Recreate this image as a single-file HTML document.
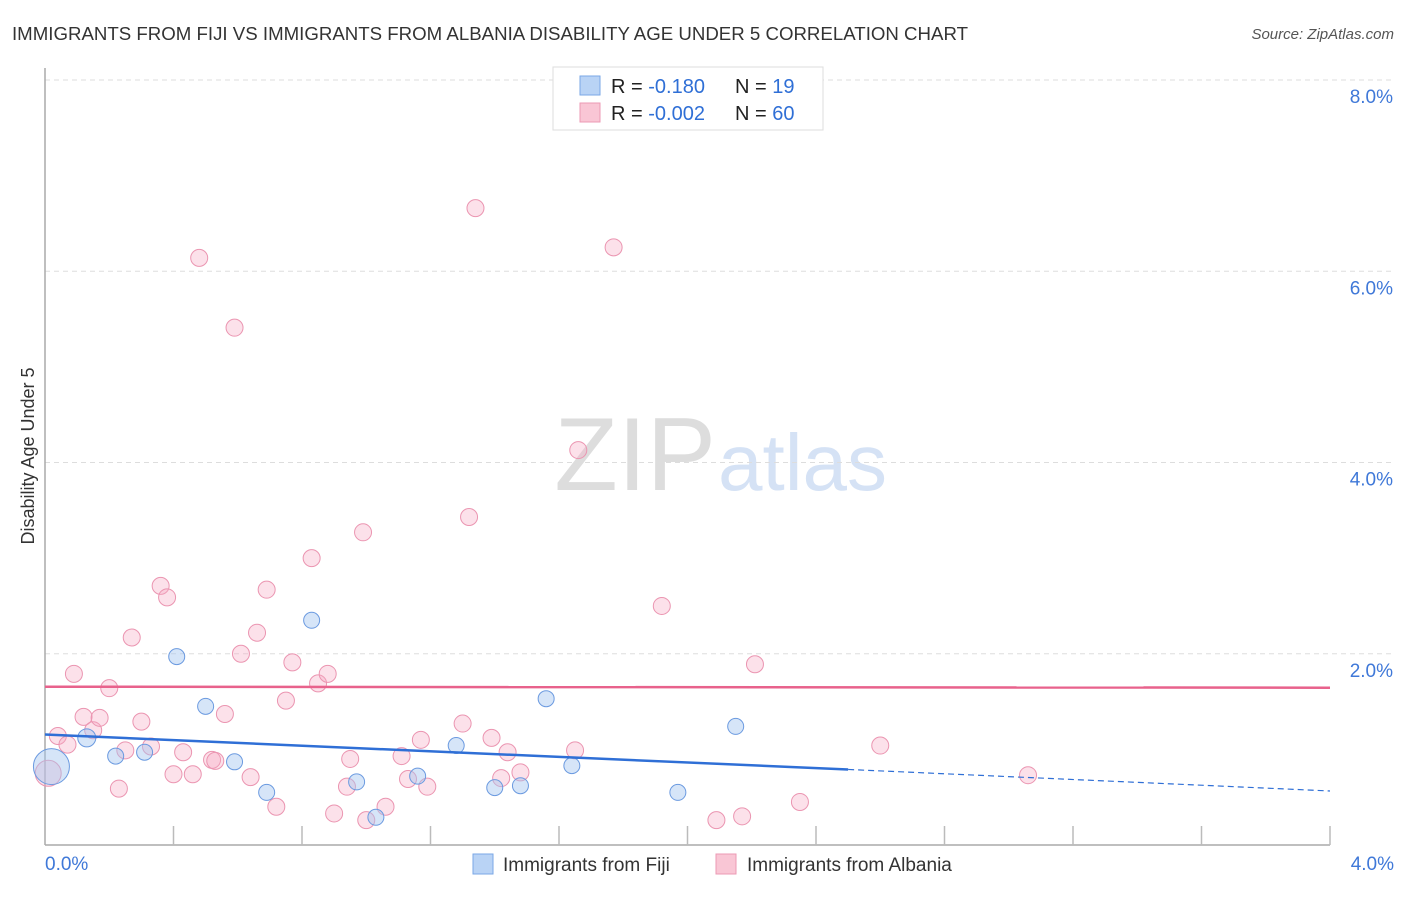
<!DOCTYPE html>
<html><head><meta charset="utf-8"><style>
body{margin:0;background:#fff;font-family:"Liberation Sans",sans-serif}
svg text{font-family:"Liberation Sans",sans-serif}
</style></head><body>
<svg id="c" width="1406" height="892" xmlns="http://www.w3.org/2000/svg">
<text x="12" y="40" font-size="18" fill="#333" textLength="956" lengthAdjust="spacingAndGlyphs">IMMIGRANTS FROM FIJI VS IMMIGRANTS FROM ALBANIA DISABILITY AGE UNDER 5 CORRELATION CHART</text>
<text x="1394" y="39" font-size="15" fill="#555" font-style="italic" text-anchor="end">Source: ZipAtlas.com</text>
<text x="34" y="456" font-size="18" fill="#333" text-anchor="middle" transform="rotate(-90 34 456)">Disability Age Under 5</text>
<text x="716" y="490" font-size="104" fill="#ddd" text-anchor="end" font-family="Liberation Serif">ZIP</text>
<text x="718" y="490" font-size="80" fill="#d5e2f5">atlas</text>
<g id="grid"></g><g id="axes"></g><g id="pts"></g><g id="lines"></g>
<g>
<rect x="553" y="67" width="270" height="63" fill="#fff" stroke="#ddd"/>
<rect x="580" y="76" width="20" height="19" fill="#b9d3f5" stroke="#7aa7e6"/>
<rect x="580" y="103" width="20" height="19" fill="#f9c6d5" stroke="#ec9ab4"/>
<text x="611" y="93" font-size="20" fill="#222">R = <tspan fill="#2f6fd6"> -0.180</tspan><tspan x="735">N = </tspan><tspan fill="#2f6fd6"> 19</tspan></text>
<text x="611" y="120" font-size="20" fill="#222">R = <tspan fill="#2f6fd6">-0.002</tspan><tspan x="735">N = </tspan><tspan fill="#2f6fd6">60</tspan></text>
</g>
<g>
<rect x="473" y="854" width="20" height="20" fill="#b9d3f5" stroke="#7aa7e6"/>
<text x="503" y="871" font-size="19" fill="#333">Immigrants from Fiji</text>
<rect x="716" y="854" width="20" height="20" fill="#f9c6d5" stroke="#ec9ab4"/>
<text x="747" y="871" font-size="19" fill="#333">Immigrants from Albania</text>
</g>
</svg>
<script>
const yTicks=[2,4,6,8];
const xTickLabels=["0.0%","4.0%"];
const fijiX=[0.02,0.13,0.22,0.31,0.41,0.50,0.59,0.69,0.83,0.97,1.03,1.16,1.28,1.40,1.48,1.56,1.64,1.97,2.15];
const fijiY=[0.82,1.12,0.93,0.97,1.97,1.45,0.87,0.55,2.35,0.66,0.29,0.72,1.04,0.60,0.62,1.53,0.83,0.55,1.24];
const fijiR=[18,9,8,8,8,8,8,8,8,8,8,8,8,8,8,8,8,8,8];
const albX=[0.01,0.04,0.07,0.09,0.12,0.15,0.17,0.20,0.23,0.25,0.27,0.30,0.33,0.36,0.38,0.40,0.43,0.46,0.48,0.52,0.53,0.56,0.59,0.64,0.61,0.66,0.69,0.72,0.75,0.77,0.83,0.85,0.88,0.90,0.94,0.95,0.99,1.00,1.06,1.11,1.13,1.17,1.19,1.30,1.32,1.34,1.39,1.42,1.44,1.48,1.65,1.77,1.92,2.09,2.17,2.21,2.35,2.60,3.06,1.66];
const albY=[0.75,1.14,1.05,1.79,1.34,1.20,1.33,1.64,0.59,0.99,2.17,1.29,1.03,2.71,2.59,0.74,0.97,0.74,6.14,0.89,0.88,1.37,5.41,0.71,2.00,2.22,2.67,0.40,1.51,1.91,3.00,1.69,1.79,0.33,0.61,0.90,3.27,0.26,0.40,0.93,0.69,1.10,0.61,1.27,3.43,6.66,1.12,0.70,0.97,0.76,0.99,6.25,2.50,0.26,0.30,1.89,0.45,1.04,0.73,4.13];
const X=v=>45+v/4*1285, Y=v=>845-v/8*765;
const NS="http://www.w3.org/2000/svg";
function mk(t,a,p){const e=document.createElementNS(NS,t);for(const k in a)e.setAttribute(k,a[k]);p.appendChild(e);return e;}
const grid=document.getElementById('grid'),axes=document.getElementById('axes'),pts=document.getElementById('pts'),lines=document.getElementById('lines');
yTicks.forEach(t=>{
 const l=mk('line',{x1:45,x2:1394,y1:Y(t),y2:Y(t),stroke:'#ddd','stroke-dasharray':'5,4'},grid);
 
 
 const tx=mk('text',{x:1393,y:Y(t)+23,'font-size':19,fill:'#3f78d8','text-anchor':'end'},axes);
 tx.textContent=t.toFixed(1)+'%';
 
 
});
mk('line',{x1:45,x2:45,y1:68,y2:845,stroke:'#aaa','stroke-width':1.5},axes);
mk('line',{x1:45,x2:1330,y1:845,y2:845,stroke:'#aaa','stroke-width':1.5},axes);
for(let i=1;i<=10;i++){mk('line',{x1:X(i*0.4),x2:X(i*0.4),y1:826,y2:845,stroke:'#bbb','stroke-width':1.5},axes);}
[[0,'start'],[4,'end']].forEach((d,i)=>{
 const tx=mk('text',{x:i?1394:45,y:870,'font-size':19,fill:'#3f78d8','text-anchor':d[1]},axes);
 tx.textContent=xTickLabels[i];
 
 
});
albX.forEach((x,i)=>{
 const c=mk('circle',{cx:X(x),cy:Y(albY[i]),r:i==0?13:8.5,fill:'rgba(245,170,195,0.35)',stroke:'#eb95b1','stroke-width':1},pts);
 
 
});
fijiX.forEach((x,i)=>{
 const c=mk('circle',{cx:X(x),cy:Y(fijiY[i]),r:fijiR[i],fill:'rgba(165,198,240,0.45)',stroke:'#6b9ae0','stroke-width':1},pts);
 
 
});
const pl=mk('line',{x1:X(0),x2:X(4),y1:Y(1.655),y2:Y(1.645),stroke:'#e8628c','stroke-width':2.5},lines);


const bl=mk('line',{x1:X(0),x2:X(2.5),y1:Y(1.155),y2:Y(0.79),stroke:'#2f6fd6','stroke-width':2.5},lines);


const bd=mk('line',{x1:X(2.5),x2:X(4),y1:Y(0.79),y2:Y(0.565),stroke:'#2f6fd6','stroke-width':1.2,'stroke-dasharray':'6,4'},lines);


</script>
</body></html>
